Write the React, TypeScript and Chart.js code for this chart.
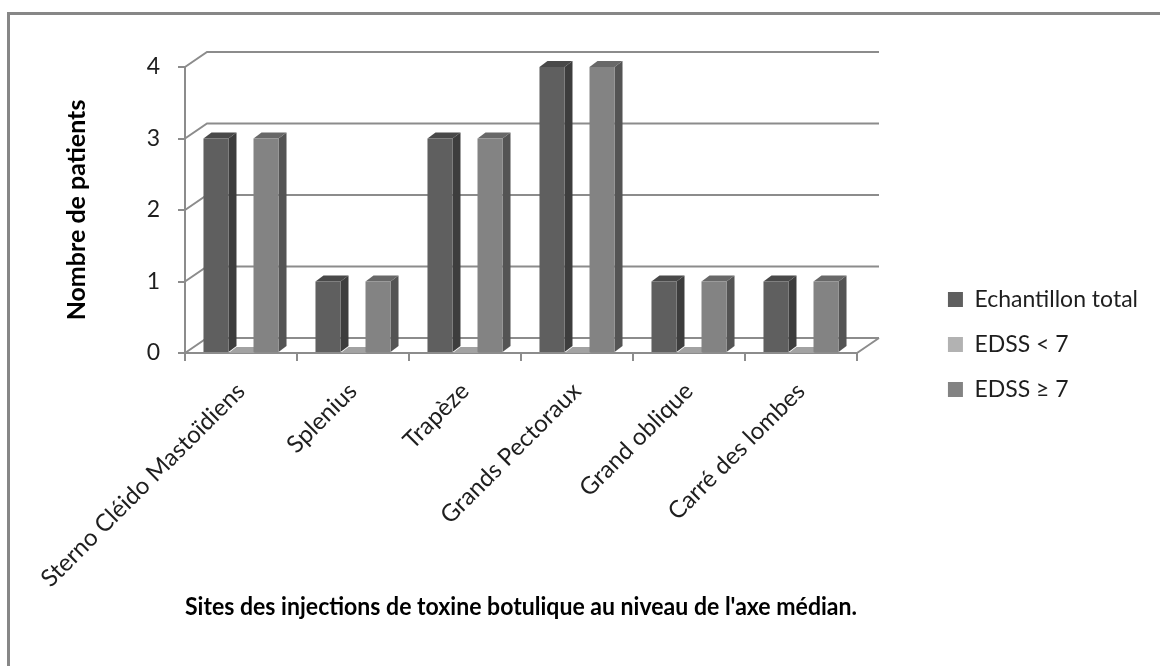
import React, { useEffect, useRef } from 'react';
import { Chart, registerables } from 'chart.js';

Chart.register(...registerables);

// ---- data ----
const categories = [
  'Sterno Cléido Mastoïdiens',
  'Splenius',
  'Trapèze',
  'Grands Pectoraux',
  'Grand oblique',
  'Carré des lombes',
];
const seriesNames = ['Echantillon total', 'EDSS < 7', 'EDSS ≥ 7'];
const totalValues = [3, 1, 3, 4, 1, 1];
const edssLowValues = [0, 0, 0, 0, 0, 0];
const edssHighValues = [3, 1, 3, 4, 1, 1];
const yTickValues = [0, 1, 2, 3, 4];
const yTitle = 'Nombre de patients';
const xTitle = "Sites des injections de toxine botulique au niveau de l'axe médian.";

// ---- styles ----
const FONT = 'Lato, "Open Sans", sans-serif';
const TEXT = '#1e1e1e';
const GRID = '#8c8c8c';
const WALL_DX = 22;
const WALL_DY = -15;
const BAR_DX = 8;
const BAR_DY = -6;
const PLOT_RIGHT = 857;
const PAD_RIGHT = 12;

const palette = [
  { front: '#5f5f5f', side: '#3d3d3d', top: '#494949' },
  { front: '#b2b2b2', side: '#8e8e8e', top: '#a2a2a2' },
  { front: '#838383', side: '#545454', top: '#686868' },
];

function poly(ctx: CanvasRenderingContext2D, pts: number[][], fill: string) {
  ctx.beginPath();
  ctx.moveTo(pts[0][0], pts[0][1]);
  for (let i = 1; i < pts.length; i++) ctx.lineTo(pts[i][0], pts[i][1]);
  ctx.closePath();
  ctx.fillStyle = fill;
  ctx.fill();
}

const frame3d = {
  id: 'frame3d',
  beforeDraw(chart: any) {
    const { ctx, width, height } = chart;
    ctx.save();
    ctx.fillStyle = '#ffffff';
    ctx.fillRect(0, 0, width, height);
    ctx.fillStyle = '#878787';
    ctx.fillRect(7, 12, width - 7, 3);
    ctx.fillRect(7, 12, 3, height - 12);
    ctx.restore();
  },
  beforeDatasetsDraw(chart: any) {
    const { ctx, chartArea, scales } = chart;
    const { left, right } = chartArea;
    const y = scales.y;
    ctx.save();
    ctx.strokeStyle = GRID;
    ctx.lineWidth = 2;
    ctx.beginPath();
    yTickValues.forEach((v) => {
      const py = y.getPixelForValue(v);
      ctx.moveTo(left, py);
      ctx.lineTo(left + WALL_DX, py + WALL_DY);
      ctx.lineTo(right + WALL_DX, py + WALL_DY);
    });
    const p0 = y.getPixelForValue(0);
    ctx.moveTo(right, p0);
    ctx.lineTo(right + WALL_DX, p0 + WALL_DY);
    ctx.stroke();

    // 3D side & top faces of bars (front faces drawn by Chart.js on top)
    [1, 0, 2].forEach((di) => {
      const meta = chart.getDatasetMeta(di);
      const c = palette[di];
      meta.data.forEach((bar: any) => {
        const { x, y: top, base, width } = bar.getProps(['x', 'y', 'base', 'width'], true);
        const l = x - width / 2;
        const r = x + width / 2;
        if (base - top > 0.5) {
          poly(ctx, [[r, top], [r + BAR_DX, top + BAR_DY], [r + BAR_DX, base + BAR_DY], [r, base]], c.side);
        }
        poly(ctx, [[l, top], [l + BAR_DX, top + BAR_DY], [r + BAR_DX, top + BAR_DY], [r, top]], c.top);
      });
    });
    ctx.restore();
  },
};

export default function App() {
  const ref = useRef<HTMLCanvasElement | null>(null);

  useEffect(() => {
    if (!ref.current) return;
    Chart.defaults.font.family = FONT;
    const chart = new Chart(ref.current, {
      type: 'bar',
      data: {
        labels: categories,
        datasets: [
          { label: seriesNames[0], data: totalValues, backgroundColor: palette[0].front, borderWidth: 0 },
          { label: seriesNames[1], data: edssLowValues, backgroundColor: palette[1].front, borderWidth: 0 },
          { label: seriesNames[2], data: edssHighValues, backgroundColor: palette[2].front, borderWidth: 0 },
        ],
      },
      options: {
        responsive: false,
        maintainAspectRatio: false,
        animation: false,
        events: [],
        datasets: { bar: { categoryPercentage: 0.67, barPercentage: 1 } },
        layout: { padding: { left: 0, top: 67, right: PAD_RIGHT, bottom: 44 } },
        plugins: {
          tooltip: { enabled: false },
          legend: {
            position: 'right',
            maxWidth: 340,
            labels: {
              font: { family: FONT, size: 23 },
              color: TEXT,
              boxWidth: 15,
              boxHeight: 15,
              padding: 22,
            },
          },
        },
        scales: {
          x: {
            grid: {
              display: true,
              offset: true,
              drawOnChartArea: false,
              drawTicks: true,
              tickLength: 8,
              color: GRID,
              lineWidth: 2,
            },
            border: { display: true, color: GRID, width: 2 },
            ticks: {
              autoSkip: false,
              minRotation: 45,
              maxRotation: 45,
              font: { family: FONT, size: 24 },
              color: TEXT,
              padding: 16,
            },
            title: {
              display: true,
              text: xTitle,
              font: { family: FONT, size: 25, weight: 'bold' },
              color: '#000',
              padding: { top: 0, bottom: 0 },
            },
            afterFit: (s: any) => {
              s.height = 269;
            },
          },
          y: {
            min: 0,
            max: 4,
            ticks: {
              stepSize: 1,
              font: { family: FONT, size: 23 },
              color: TEXT,
              padding: 18,
            },
            grid: {
              display: true,
              drawOnChartArea: false,
              drawTicks: true,
              tickLength: 7,
              color: GRID,
              lineWidth: 2,
            },
            border: { display: true, color: GRID, width: 2 },
            title: {
              display: true,
              text: yTitle,
              font: { family: FONT, size: 25, weight: 'bold' },
              color: '#000',
              padding: { top: 62, bottom: 0 },
            },
            afterFit: (s: any) => {
              s.width = 185;
            },
          },
          yr: {
            position: 'right',
            display: true,
            grid: { display: false, drawTicks: false },
            ticks: { display: false },
            border: { display: false },
            afterFit: (s: any) => {
              const lw = s.chart.legend ? s.chart.legend.width : 0;
              s.width = Math.max(0, s.chart.width - PAD_RIGHT - PLOT_RIGHT - lw);
            },
          },
        },
      } as any,
      plugins: [frame3d],
    });
    return () => chart.destroy();
  }, []);

  return (
    <div style={{ position: 'absolute', left: 0, top: 0, width: 1160, height: 666, background: '#fff' }}>
      <canvas ref={ref} width={1160} height={666} style={{ display: 'block', width: 1160, height: 666 }} />
    </div>
  );
}
